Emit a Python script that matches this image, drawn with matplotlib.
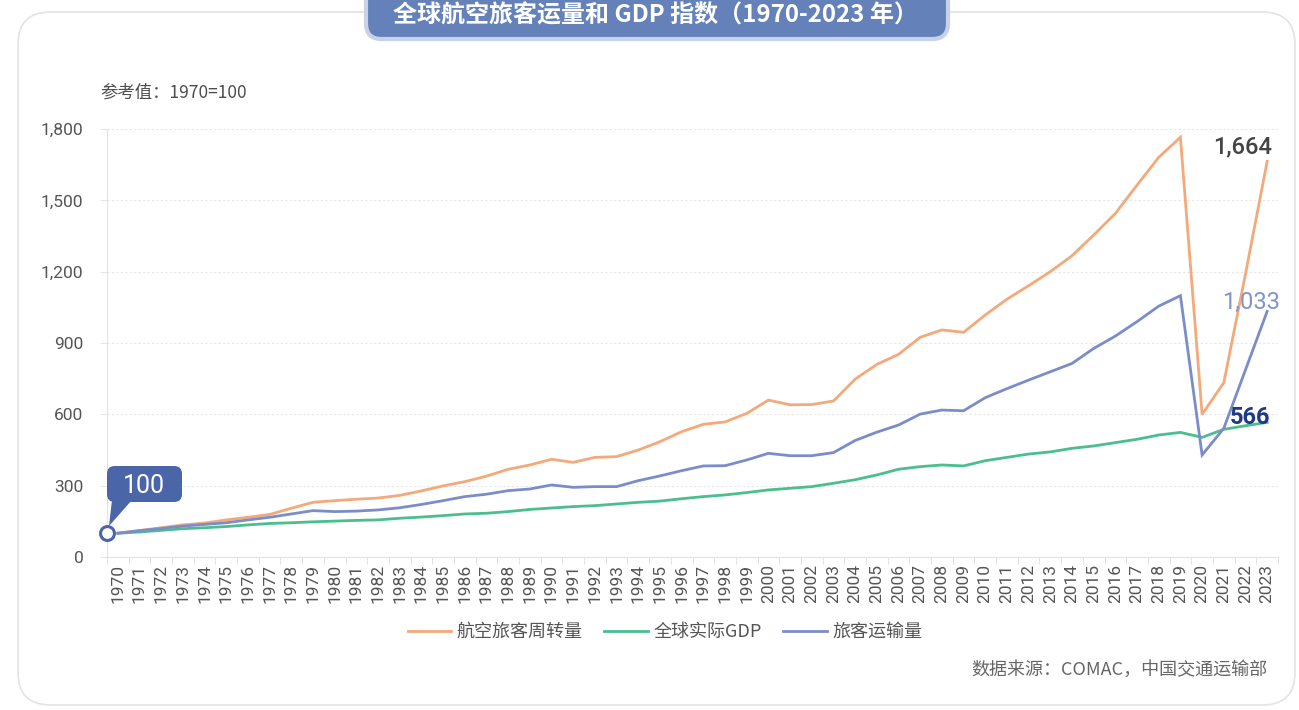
import matplotlib
matplotlib.use("Agg")
import matplotlib.pyplot as plt
from matplotlib.patches import FancyBboxPatch
from matplotlib.lines import Line2D
import numpy as np

plt.rcParams['font.family'] = ['Noto Sans CJK SC', 'DejaVu Sans']

years = list(range(1970, 2024))
rpk = [100, 111, 123, 135, 143, 156, 167, 179, 205, 230, 237, 243, 248, 259, 278, 299, 317, 340,
       369, 387, 411, 398, 419, 422, 450, 485, 527, 558, 568, 604, 660, 640, 641, 656, 748, 810,
       852, 924, 955, 945, 1018, 1084, 1141, 1200, 1267, 1354, 1445, 1564, 1681, 1765, 600, 733,
       1190, 1664]
gdp = [100, 105, 112, 119, 123, 128, 135, 141, 144, 148, 151, 154, 156, 163, 168, 174, 181, 184,
       191, 200, 206, 212, 216, 223, 230, 235, 245, 254, 261, 271, 282, 289, 296, 310, 325, 345,
       369, 380, 387, 383, 405, 419, 433, 442, 457, 467, 481, 495, 513, 524, 503, 537, 552, 566]
pax = [100, 111, 120, 130, 137, 144, 156, 167, 181, 195, 191, 193, 198, 207, 221, 237, 254, 264,
       279, 286, 303, 293, 296, 296, 321, 341, 363, 383, 384, 408, 436, 426, 426, 439, 490, 525,
       555, 601, 618, 615, 670, 708, 744, 779, 814, 877, 929, 990, 1055, 1099, 429, 541, 787, 1033]
series_names = ['航空旅客周转量', '全球实际GDP', '旅客运输量']
colors = ['#F4A97A', '#4BBE8E', '#7B8DC8']
yticks = [0, 300, 600, 900, 1200, 1500, 1800]

W, H = 1299, 710
fig = plt.figure(figsize=(W / 100, H / 100), dpi=100)
fig.patch.set_facecolor('white')

# card background
card = FancyBboxPatch((18 / W, 5 / H), 1277 / W, 693 / H,
                      boxstyle="round,pad=0,rounding_size=0.025",
                      transform=fig.transFigure, facecolor='white',
                      edgecolor='#e3e3e3', linewidth=1.2, zorder=-5, mutation_aspect=W / H)
fig.patches.append(card)

# title box
tbox = FancyBboxPatch((366 / W, (H - 39) / H), 582 / W, 60 / H,
                      boxstyle="round,pad=0,rounding_size=0.012",
                      transform=fig.transFigure, facecolor='#6482B9',
                      edgecolor='#C7D1E8', linewidth=3, zorder=2, mutation_aspect=W / H)
fig.patches.append(tbox)
fig.text(655 / W, 1 - 15 / H, '全球航空旅客运量和 GDP 指数（1970-2023 年）', color='white',
         fontsize=17.3, fontweight='bold', ha='center', va='center', zorder=3)

ax = fig.add_axes([107 / W, 1 - 557 / H, (1278 - 107) / W, (557 - 129) / H])
ax.set_zorder(1)
ax.patch.set_alpha(0)
x = np.arange(len(years))
for vals, c, n in zip([rpk, gdp, pax], colors, series_names):
    ax.plot(x, vals, color=c, lw=2, label=n, solid_joinstyle='miter', zorder=3)

ax.set_xlim(-0.5, len(years) - 0.5)
ax.set_ylim(0, 1800)
ax.set_yticks(yticks)
ax.set_yticklabels([f'{v:,}' for v in yticks], family='Roboto', fontsize=12.5, color='#555555')
ax.set_xticks(x)
ax.set_xticklabels([str(y) for y in years], rotation=90, family='Roboto', fontsize=12.5,
                   color='#555555')
ax.set_xticks(np.arange(len(years) + 1) - 0.5, minor=True)
ax.tick_params(axis='x', which='major', length=0, pad=5)
ax.tick_params(axis='x', which='minor', length=5, color='#dddddd')
ax.tick_params(axis='y', length=5, color='#e6e6e6', pad=12)
for s in ['top', 'right']:
    ax.spines[s].set_visible(False)
ax.spines['left'].set_color('#e3e3e3')
ax.spines['bottom'].set_color('#e3e3e3')
ax.grid(axis='y', color='#e6e6e6', linestyle=(0, (2, 2)), lw=0.8)
ax.set_axisbelow(True)

# annotations
fig.text(100 / W, 1 - 93 / H, '参考值：1970=100', fontsize=12.5, color='#4d4d4d', va='center', ha='left')
ax.text(len(years) - 0.75, rpk[-1] + 35, f'{rpk[-1]:,}', family='Roboto', fontsize=17,
        fontweight='medium', color='#444444', ha='right', va='baseline', zorder=6)
ax.text(len(years) - 0.4, pax[-1] + 10, f'{pax[-1]:,}', family='Roboto', fontsize=17,
        color='#8094CC', ha='right', va='baseline', zorder=6)
ax.text(len(years) - 0.85, gdp[-1] - 7, f'{gdp[-1]:,}', family='Roboto', fontsize=17,
        fontweight='bold', color='#1F3A85', ha='right', va='baseline', zorder=6)

# 100 callout
ax.plot([-0.5], [rpk[0]], marker='o', ms=10, mfc='white', mec='#4A65A8', mew=2.2,
        clip_on=False, zorder=6)
cb = FancyBboxPatch((107 / W, 1 - 502 / H), 75 / W, 36 / H,
                    boxstyle="round,pad=0,rounding_size=0.006",
                    transform=fig.transFigure, facecolor='#4A65A8', edgecolor='none',
                    zorder=5, mutation_aspect=W / H)
fig.patches.append(cb)
tail = plt.Polygon([[112 / W, 1 - 500 / H], [132 / W, 1 - 500 / H], [109 / W, 1 - 526 / H]],
                   closed=True, transform=fig.transFigure, facecolor='#4A65A8',
                   edgecolor='none', zorder=5)
fig.patches.append(tail)
fig.text(144 / W, 1 - 486 / H, '100', family='Roboto', fontsize=18, color='white',
         ha='center', va='center', zorder=6)

# legend
handles = [Line2D([0], [0], color=c, lw=2) for c in colors]
leg = fig.legend(handles, series_names, loc='center', bbox_to_anchor=(665 / W, 1 - 632 / H),
                 ncol=3, frameon=False, fontsize=13, handlelength=2.4, handletextpad=0.3,
                 columnspacing=1.2)
for t in leg.get_texts():
    t.set_color('#555555')

fig.text(1267 / W, 1 - 670 / H, '数据来源：COMAC，中国交通运输部', fontsize=13, color='#666666',
         ha='right', va='center')

fig.savefig('out.png', dpi=100, facecolor='white')
